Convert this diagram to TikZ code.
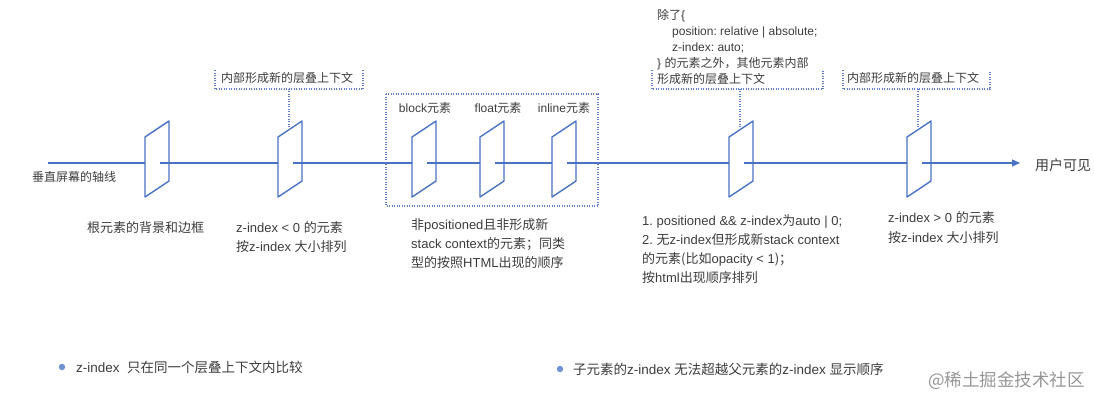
\documentclass[tikz,border=0pt]{standalone}
\usepackage{fontspec}
\setmainfont{Liberation Sans}
\newfontfamily\zhfont{Noto Sans CJK SC}
\newcommand\zh[1]{{\zhfont #1}}
\newcommand\lines[1]{\begin{tabular}[t]{@{}l@{}}#1\end{tabular}}
\frenchspacing
\usetikzlibrary{arrows.meta}
\definecolor{axisblue}{RGB}{74,114,196}
\definecolor{txtc}{RGB}{60,60,60}
\definecolor{dotblue}{RGB}{95,125,200}
\definecolor{bulletblue}{RGB}{110,145,210}
\definecolor{wmgray}{RGB}{150,150,150}
\tikzset{
  axisline/.style={draw=axisblue, line width=1.3pt},
  planeshape/.style={draw=axisblue, line width=1.4pt, line join=round},
  dotbox/.style={draw=dotblue, line width=1.1pt, dash pattern=on 1pt off 1.5pt},
  lbl/.style={text=txtc, inner sep=0pt, anchor=base west},
  lblc/.style={text=txtc, inner sep=0pt, anchor=base},
  fdesc/.style={font=\fontsize{13}{19}\selectfont},
  fsmall/.style={font=\fontsize{12}{16}\selectfont},
}
\newcommand\zplane[2]{%
  \draw[planeshape] (#2,137) -- (#2+24,121) -- (#2+24,181) -- (#2,197) -- cycle;
  \coordinate (#1-in) at (#2,163);
  \coordinate (#1-out) at (#2+15,163);
  \coordinate (#1-top) at (#2+11,{137-16*11/24});
}
\begin{document}
\begin{tikzpicture}[x=1pt,y=-1pt]
\useasboundingbox (0,0) rectangle (1094,400);

% planes
\zplane{p1}{145}
\zplane{p2}{278}
\zplane{pa}{412}
\zplane{pb}{480}
\zplane{pc}{552}
\zplane{pd}{729}
\zplane{pe}{907}

% axis
\coordinate (axstart) at (48,163);
\coordinate (axend) at (1020,163);
\draw[axisline] (axstart) -- (p1-in);
\draw[axisline] (p1-out) -- (p2-in);
\draw[axisline] (p2-out) -- (pa-in);
\draw[axisline] (pa-out) -- (pb-in);
\draw[axisline] (pb-out) -- (pc-in);
\draw[axisline] (pc-out) -- (pd-in);
\draw[axisline] (pd-out) -- (pe-in);
\draw[axisline, -{Triangle[length=8pt,width=7pt]}] (pe-out) -- (axend);

% group box
\draw[dotbox] (386,94) rectangle (598,206);

% bracket boxes
\draw[dotbox] (215,70) -- (215,89) coordinate (b1bl) -- (363,89) -- (363,70);
\draw[dotbox] (652,70) -- (652,89) coordinate (b2bl) -- (823,89) -- (823,70);
\draw[dotbox] (843,70) -- (843,89) coordinate (b3bl) -- (990,89) -- (990,70);
\draw[dotbox] (p2-top) -- (p2-top |- b1bl);
\draw[dotbox] (pd-top) -- (pd-top |- b2bl);
\draw[dotbox] (pe-top) -- (pe-top |- b3bl);

% labels
\node[lbl, fsmall] (axlabel) at (32,181.6) {\zh{垂直屏幕的轴线}};
\node[lbl, fdesc] (d1) at (87,232.9) {\zh{根元素的背景和边框}};
\node[lbl, fdesc] (d2) at (236,232.9) {\lines{z-index < 0 \zh{的元素}\\ \zh{按}z-index \zh{大小排列}}};
\node[lbl, fdesc] (d3) at (411,229.9) {\lines{\zh{非}positioned\zh{且非形成新}\\ stack context\zh{的元素；同类}\\ \zh{型的按照}HTML\zh{出现的顺序}}};
\node[lbl, fdesc] (d4) at (642,225.9) {\lines{1. positioned \&\& z-index\zh{为}auto | 0;\\ 2. \zh{无}z-index\zh{但形成新}stack context\\ \zh{的元素(比如}opacity < 1\zh{)；}\\ \zh{按}html\zh{出现顺序排列}}};
\node[lbl, font=\fontsize{13}{20}\selectfont] (d5) at (888,222.9) {\lines{z-index > 0 \zh{的元素}\\ \zh{按}z-index \zh{大小排列}}};

\node[lbl, fsmall] (top) at (657,19.6) {\lines{\zh{除了}\{\\ \hspace*{15pt}position: relative | absolute;\\ \hspace*{15pt}z-index: auto;\\ \} \zh{的元素之外，其他元素内部}\\ \zh{形成新的层叠上下文}}};
\node[lbl, fsmall] (b1t) at (221,82.6) {\zh{内部形成新的层叠上下文}};
\node[lbl, fsmall] (b3t) at (847,82.6) {\zh{内部形成新的层叠上下文}};

\node[lblc, fsmall] (la) at (425,112.6) {block\zh{元素}};
\node[lblc, fsmall] (lb) at (498,112.6) {float\zh{元素}};
\node[lblc, fsmall] (lc) at (564,112.6) {inline\zh{元素}};

\node[lbl, font=\fontsize{14}{16}\selectfont] (user) at (1035,170.3) {\zh{用户可见}};

% bullets
\fill[bulletblue] (62,367) circle (3.2);
\node[lbl, font=\fontsize{13.5}{16}\selectfont] (bt1) at (76,372.1) {z-index\ \ \zh{只在同一个层叠上下文内比较}};
\fill[bulletblue] (560,369) circle (3.2);
\node[lbl, font=\fontsize{13.5}{16}\selectfont] (bt2) at (573,374.1) {\zh{子元素的}z-index \zh{无法超越父元素的}z-index \zh{显示顺序}};

\node[lbl, text=wmgray, font=\fontsize{17.5}{20}\selectfont] (wm) at (928,386.6) {\zh{@稀土掘金技术社区}};
\end{tikzpicture}
\end{document}
